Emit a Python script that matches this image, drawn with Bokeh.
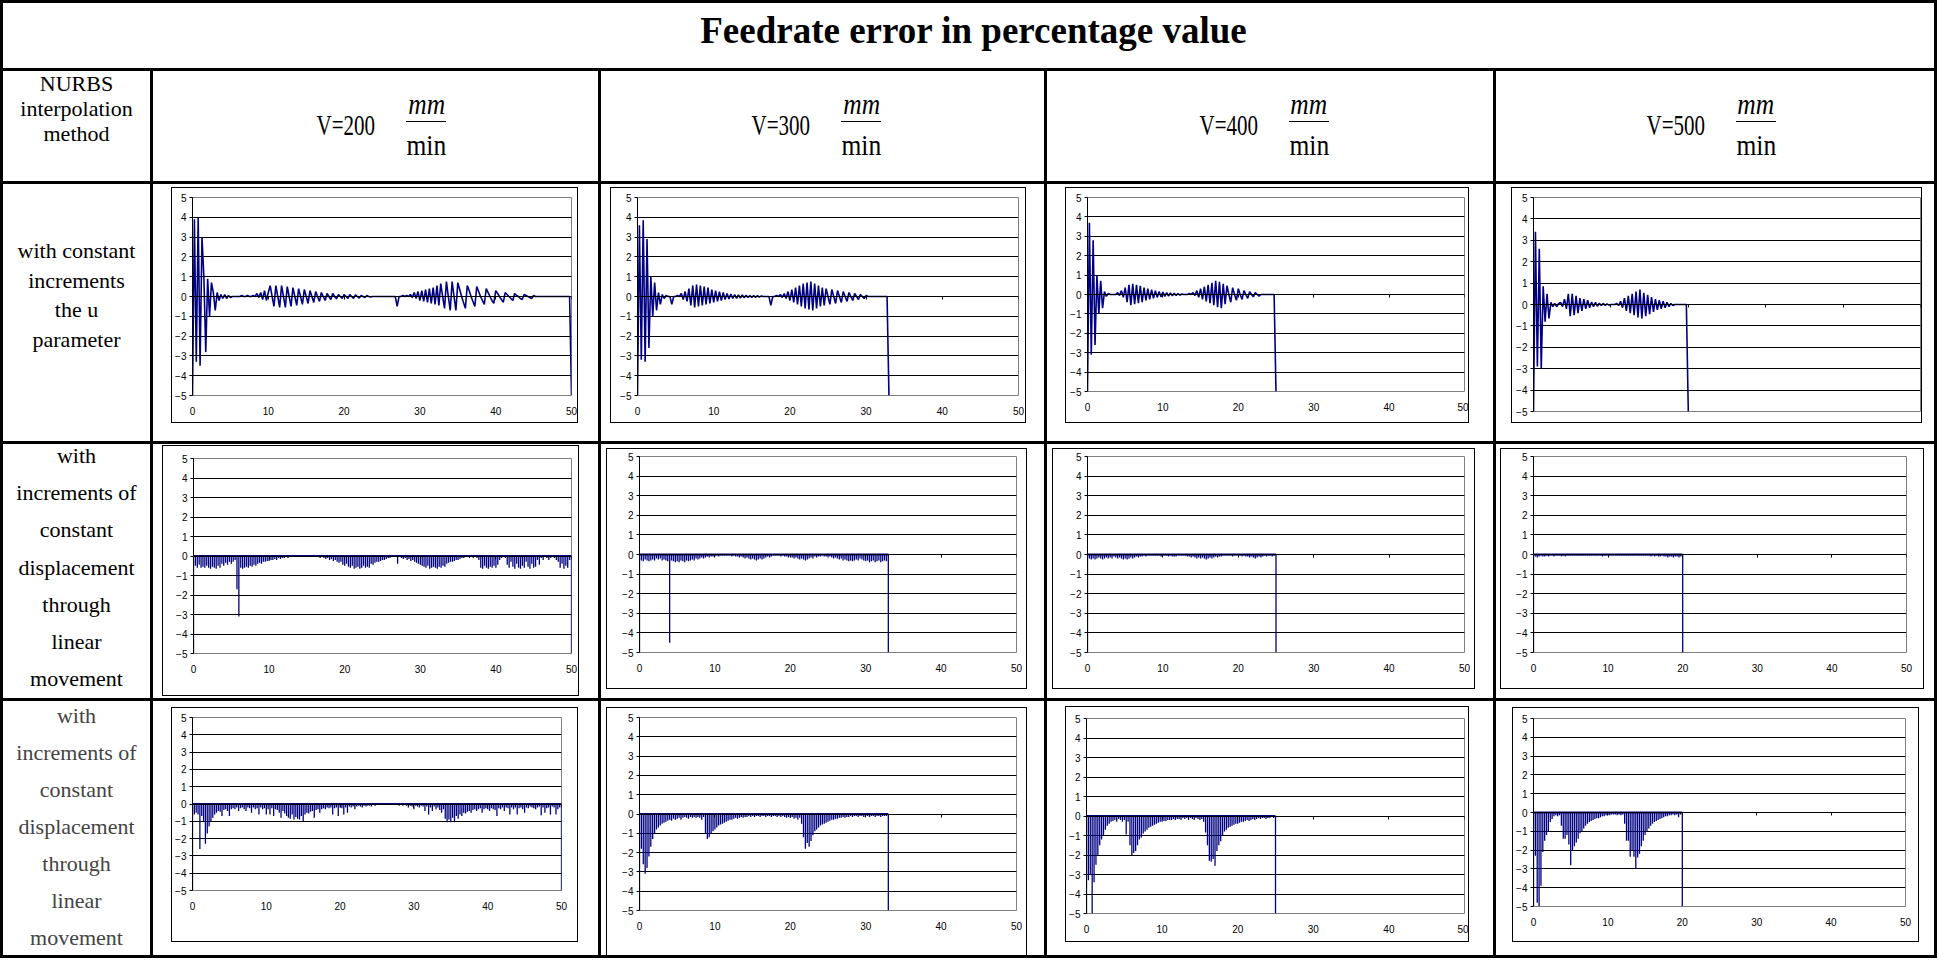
from bokeh.plotting import figure
from bokeh.layouts import column, row
from bokeh.models import Div, Range1d, LinearAxis, FixedTicker, Grid, ColumnDataSource
from bokeh.embed import file_html
from bokeh.resources import INLINE

# ---------------- texts ----------------
TITLE = "Feedrate error in percentage value"
HEADER_METHOD = ["NURBS", "interpolation", "method"]
SPEEDS = [200, 300, 400, 500]
UNIT_NUM = "mm"
UNIT_DEN = "min"
METHOD_LINES = [
    ["with constant", "increments", "the u", "parameter"],
    ["with", "increments of", "constant", "displacement", "through", "linear", "movement"],
    ["with", "increments of", "constant", "displacement", "through", "linear", "movement"],
]

# ---------------- axes ----------------
X_TICKS = [0, 10, 20, 30, 40, 50]
Y_TICKS = [-5, -4, -3, -2, -1, 0, 1, 2, 3, 4, 5]
GRID_TICKS = [-4, -3, -2, -1, 0, 1, 2, 3, 4]
STEP = 0.25  # sampling step of the series along the x axis

# ---------------- row 1: constant increments of u ----------------
U_200 = [
    -5, 3.9, -3.3, 4.0, -3.5, 3.0, 1.0, -2.8, 0.9, -1.0, 0.7, 0.2, -0.7, 0.2, -0.2, 0.1, -0.1, 0.1, -0.1, 0.05,
    -0.05, 0, 0, 0, 0, 0, 0.05, 0, 0, 0.05, 0, 0, 0.05, 0, 0.15, -0.05, 0.2, -0.15, 0.3, -0.2,
    0.2, 0.55, 0, -0.5, 0.55, 0, -0.55, 0.55, 0, -0.55, 0.5, 0, -0.5, 0.45, 0, -0.45, 0.4, 0, -0.4, 0.35,
    0, -0.35, 0.3, 0, -0.3, 0.25, 0, -0.25, 0.2, 0, -0.2, 0.15, 0, -0.15, 0.15, 0, -0.12, 0.1, 0, -0.1,
    0.1, 0, -0.1, 0.1, 0, -0.1, 0.08, 0, -0.08, 0.05, 0, -0.05, 0.05, 0, -0.03, 0, 0, 0, 0, 0,
    0, 0, 0, 0, 0, 0, 0, 0, -0.5, 0, 0, 0.05, 0, 0.05, 0, 0.1, -0.05, 0.2, -0.1, 0.25,
    -0.2, 0.3, -0.25, 0.35, -0.3, 0.4, -0.35, 0.45, -0.4, 0.55, -0.45, 0.65, 0, -0.6, 0.75, 0, -0.7, 0.75, 0, -0.7,
    0.7, 0.35, 0, -0.3, -0.6, 0.55, 0.3, 0, -0.25, -0.5, 0.5, 0.25, 0, -0.2, -0.4, 0.4, 0.2, 0, -0.2, -0.35,
    0.3, 0.15, 0, -0.15, -0.3, 0.2, 0.1, 0, -0.1, -0.2, 0.15, 0.05, 0, -0.1, -0.15, 0.1, 0.05, 0, -0.05, -0.1,
    0.05, 0, 0, 0, 0, 0, 0, 0, 0, 0, 0, 0, 0, 0, 0, 0, 0, 0, 0, 0,
    -5,
]
U_300 = [
    -5, 3.6, -3.2, 3.85, -3.3, 2.9, -2.6, 1.0, -1.0, 0.7, -0.7, 0.2, -0.4, 0.1, -0.1, 0.05, 0, 0, -0.4, 0,
    0, 0.05, 0, 0.15, -0.15, 0.25, -0.25, 0.4, -0.45, 0.55, -0.55, 0.6, -0.5, 0.55, -0.45, 0.5, -0.4, 0.45, -0.35, 0.35,
    -0.3, 0.3, -0.25, 0.25, -0.2, 0.2, -0.15, 0.15, -0.12, 0.12, -0.1, 0.1, -0.1, 0.08, -0.08, 0.08, -0.06, 0.06, -0.05, 0.05,
    -0.05, 0.05, -0.04, 0.04, -0.03, 0.03, 0, 0, 0, 0, -0.45, 0, 0, 0.05, 0, 0.1, -0.05, 0.15, -0.1, 0.25,
    -0.2, 0.35, -0.3, 0.45, -0.4, 0.55, -0.5, 0.65, -0.6, 0.7, -0.65, 0.75, -0.7, 0.65, -0.6, 0.55, -0.5, 0.45, -0.45, 0.4,
    0, -0.4, 0.35, 0, -0.35, 0.3, 0, -0.3, 0.25, 0, -0.25, 0.2, 0, -0.2, 0.15, 0, -0.15, 0.1, 0, -0.1,
    0.05, 0, 0, 0, 0, 0, 0, 0, 0, 0, 0, 0, -5,
]
U_400 = [
    -5, 3.7, -3.1, 2.8, -2.6, 1.0, -1.0, 0.7, -0.7, 0.15, -0.1, 0.05, 0, 0, 0, 0, 0.1, -0.05, 0.2, -0.15,
    0.35, -0.4, 0.5, -0.55, 0.55, -0.5, 0.5, -0.45, 0.45, -0.4, 0.35, -0.3, 0.3, -0.25, 0.25, -0.2, 0.2, -0.15, 0.15, -0.12,
    0.12, -0.1, 0.1, -0.08, 0.08, -0.07, 0.06, -0.05, 0.05, -0.04, 0.03, 0, 0, 0, 0.05, 0, 0.1, -0.05, 0.2, -0.15,
    0.3, -0.25, 0.4, -0.35, 0.5, -0.45, 0.6, -0.55, 0.7, -0.65, 0.65, -0.7, 0.55, -0.5, 0.45, 0, -0.4, 0.35, 0, -0.3,
    0.3, 0, -0.25, 0.2, 0, -0.2, 0.15, 0, -0.12, 0.1, 0, -0.08, 0, 0, 0, 0, 0, 0, 0, 0, -5,
]
U_500 = [
    -5, 3.4, -2.9, 2.6, -3.0, 0.85, -0.8, 0.5, -0.65, 0.1, -0.1, 0.05, -0.1, 0.05, 0.1, -0.1, 0.25, -0.2, 0.5, -0.55,
    0.5, -0.5, 0.4, -0.4, 0.3, -0.3, 0.25, -0.2, 0.2, -0.15, 0.12, -0.1, 0.1, -0.08, 0.06, -0.05, 0.05, -0.04, 0.03, -0.03,
    0, 0, 0, 0.05, -0.05, 0.15, -0.15, 0.3, -0.3, 0.4, -0.4, 0.5, -0.5, 0.6, -0.6, 0.7, -0.65, 0.55, -0.55, 0.45,
    -0.45, 0.35, -0.35, 0.25, -0.25, 0.2, -0.2, 0.15, -0.15, 0.1, -0.1, 0.05, -0.05, 0, 0, 0, 0, 0, 0, 0, -5,
]

# ---------------- row 2: constant displacement (first run) ----------------
D_200 = [
    -5, -0.5, -0.6, -0.45, -0.6, -0.55, -0.6, -0.5, -0.6, -0.65, -0.55, -0.6, -0.65, -0.5, -0.6, -0.4, -0.5, -0.35, -0.45, -0.3,
    -0.4, -0.3, -0.2, -1.7, -3.1, -0.6, -0.65, -0.6, -0.55, -0.6, -0.5, -0.55, -0.45, -0.5, -0.4, -0.35, -0.4, -0.3, -0.3, -0.25,
    -0.25, -0.2, -0.2, -0.15, -0.2, -0.1, -0.15, -0.1, -0.1, -0.05, -0.1, -0.05, -0.05, -0.05, -0.05, -0.03, -0.05, -0.03, -0.03, -0.03,
    -0.03, -0.03, -0.03, -0.05, -0.03, -0.05, -0.05, -0.1, -0.05, -0.1, -0.15, -0.1, -0.2, -0.15, -0.25, -0.2, -0.3, -0.35, -0.3, -0.45,
    -0.5, -0.4, -0.55, -0.6, -0.5, -0.65, -0.6, -0.55, -0.65, -0.6, -0.5, -0.6, -0.55, -0.6, -0.4, -0.45, -0.35, -0.3, -0.3, -0.25,
    -0.2, -0.2, -0.15, -0.1, -0.1, -0.05, -0.05, -0.05, -0.4, -0.05, -0.1, -0.15, -0.1, -0.2, -0.15, -0.25, -0.2, -0.3, -0.35, -0.4,
    -0.45, -0.5, -0.55, -0.6, -0.5, -0.65, -0.6, -0.55, -0.6, -0.65, -0.55, -0.6, -0.5, -0.55, -0.4, -0.35, -0.3, -0.3, -0.25, -0.2,
    -0.2, -0.15, -0.1, -0.1, -0.05, -0.05, -0.1, -0.05, -0.1, -0.05, -0.1, -0.2, -0.6, -0.65, -0.5, -0.6, -0.65, -0.55, -0.6, -0.5,
    -0.6, -0.45, -0.2, -0.1, -0.05, -0.1, -0.45, -0.6, -0.3, -0.55, -0.65, -0.4, -0.6, -0.65, -0.5, -0.6, -0.3, -0.55, -0.65, -0.4,
    -0.6, -0.55, -0.2, -0.45, -0.1, -0.2, -0.05, -0.1, -0.2, -0.1, -0.05, -0.1, -0.2, -0.3, -0.6, -0.4, -0.65, -0.5, -0.6, -0.2,
    -5,
]
D_300 = [
    -5, -0.3, -0.35, -0.25, -0.3, -0.35, -0.3, -0.25, -0.3, -0.2, -0.25, -0.2, -0.3, -0.25, -0.3, -0.35, -4.5, -0.3, -0.35, -0.4,
    -0.35, -0.4, -0.3, -0.35, -0.4, -0.3, -0.35, -0.3, -0.25, -0.3, -0.2, -0.25, -0.2, -0.15, -0.2, -0.15, -0.1, -0.15, -0.1, -0.1,
    -0.1, -0.05, -0.1, -0.05, -0.05, -0.05, -0.05, -0.05, -0.05, -0.1, -0.05, -0.1, -0.1, -0.15, -0.1, -0.15, -0.2, -0.15, -0.2, -0.25,
    -0.2, -0.25, -0.3, -0.25, -0.2, -0.25, -0.2, -0.15, -0.1, -0.15, -0.1, -0.05, -0.05, -0.05, -0.05, -0.1, -0.05, -0.1, -0.1, -0.15,
    -0.1, -0.15, -0.2, -0.15, -0.2, -0.25, -0.2, -0.25, -0.3, -0.25, -0.2, -0.15, -0.2, -0.1, -0.15, -0.1, -0.1, -0.05, -0.1, -0.1,
    -0.15, -0.1, -0.15, -0.2, -0.15, -0.2, -0.25, -0.2, -0.3, -0.25, -0.3, -0.35, -0.3, -0.35, -0.3, -0.25, -0.3, -0.2, -0.25, -0.3,
    -0.35, -0.3, -0.4, -0.35, -0.3, -0.4, -0.35, -0.3, -0.4, -0.35, -0.3, -0.35, -5,
]
D_400 = [
    -5, -0.2, -0.25, -0.2, -0.25, -0.2, -0.15, -0.2, -0.25, -0.2, -0.15, -0.2, -0.15, -0.2, -0.1, -0.15, -0.2, -0.15, -0.2, -0.25,
    -0.2, -0.25, -0.2, -0.15, -0.2, -0.15, -0.1, -0.15, -0.1, -0.1, -0.05, -0.1, -0.05, -0.05, -0.05, -0.05, -0.05, -0.05, -0.05, -0.1,
    -0.05, -0.05, -0.05, -0.1, -0.05, -0.1, -0.1, -0.1, -0.05, -0.05, -0.05, -0.05, -0.05, -0.1, -0.1, -0.15, -0.1, -0.15, -0.2, -0.15,
    -0.2, -0.15, -0.2, -0.25, -0.2, -0.15, -0.2, -0.15, -0.1, -0.15, -0.1, -0.1, -0.05, -0.05, -0.05, -0.05, -0.05, -0.1, -0.05, -0.05,
    -0.05, -0.05, -0.1, -0.05, -0.1, -0.1, -0.15, -0.1, -0.15, -0.2, -0.15, -0.1, -0.15, -0.1, -0.05, -0.1, -0.05, -0.05, -0.1, -0.05, -5,
]
D_500 = [
    -5, -0.1, -0.15, -0.1, -0.05, -0.1, -0.1, -0.05, -0.1, -0.05, -0.05, -0.1, -0.05, -0.05, -0.05, -0.1, -0.05, -0.1, -0.05, -0.05,
    -0.05, -0.05, -0.05, -0.05, -0.05, -0.05, -0.05, -0.05, -0.05, -0.05, -0.05, -0.05, -0.05, -0.05, -0.05, -0.05, -0.05, -0.1, -0.05, -0.05,
    -0.05, -0.05, -0.05, -0.05, -0.05, -0.05, -0.05, -0.05, -0.05, -0.05, -0.05, -0.05, -0.05, -0.05, -0.05, -0.05, -0.05, -0.05, -0.05, -0.05,
    -0.05, -0.05, -0.05, -0.1, -0.05, -0.1, -0.05, -0.1, -0.1, -0.05, -0.1, -0.1, -0.15, -0.1, -0.1, -0.15, -0.1, -0.1, -0.15, -0.1, -5,
]

# ---------------- row 3: constant displacement (second run) ----------------
L_200 = [
    -5, -0.6, -0.5, -0.6, -2.6, -0.7, -1.0, -2.3, -1.7, -1.3, -1.0, -0.8, -0.6, -0.5, -0.4, -0.45, -0.7, -0.35, -0.3, -0.4,
    -0.7, -0.3, -0.25, -0.3, -0.2, -0.4, -0.25, -0.2, -0.3, -0.4, -0.2, -0.25, -0.5, -0.2, -0.3, -0.25, -0.6, -0.2, -0.3, -0.25,
    -0.6, -0.3, -0.6, -0.25, -0.7, -0.3, -0.35, -0.5, -0.8, -0.4, -0.55, -0.7, -0.8, -0.85, -0.6, -0.9, -0.75, -0.85, -0.9, -0.7,
    -1.0, -0.6, -0.5, -0.55, -0.45, -0.4, -0.8, -0.35, -0.3, -0.5, -0.3, -0.25, -0.3, -0.2, -0.25, -0.2, -0.6, -0.25, -0.2, -0.7,
    -0.2, -0.25, -0.6, -0.2, -0.5, -0.15, -0.2, -0.15, -0.3, -0.15, -0.1, -0.15, -0.2, -0.1, -0.15, -0.1, -0.1, -0.15, -0.05, -0.1,
    -0.05, -0.05, -0.05, -0.05, -0.05, -0.05, -0.05, -0.05, -0.05, -0.05, -0.05, -0.05, -0.1, -0.05, -0.1, -0.05, -0.1, -0.2, -0.1, -0.15,
    -0.3, -0.1, -0.15, -0.2, -0.1, -0.15, -0.4, -0.15, -0.6, -0.2, -0.4, -0.15, -0.3, -0.2, -0.35, -0.5, -0.3, -0.85, -1.05, -0.9,
    -1.05, -0.8, -1.05, -0.7, -0.85, -0.6, -0.7, -0.5, -0.55, -0.45, -0.4, -0.5, -0.35, -0.3, -0.4, -0.3, -0.25, -0.5, -0.3, -0.25,
    -0.3, -0.4, -0.25, -0.3, -0.35, -0.7, -0.25, -0.3, -0.2, -0.4, -0.2, -0.25, -0.6, -0.2, -0.3, -0.2, -0.6, -0.25, -0.2, -0.3,
    -0.5, -0.2, -0.25, -0.15, -0.2, -0.25, -0.3, -0.2, -0.15, -0.65, -0.2, -0.5, -0.25, -0.2, -0.6, -0.15, -0.2, -0.6, -0.3, -0.2,
    -5,
]
L_300 = [
    -5, -1.8, -2.6, -3.1, -2.8, -2.2, -1.7, -1.3, -1.0, -0.8, -0.7, -0.6, -0.5, -0.45, -0.4, -0.35, -0.3, -0.35, -0.25, -0.3,
    -0.25, -0.2, -0.3, -0.2, -0.15, -0.2, -0.25, -0.15, -0.2, -0.15, -0.2, -0.15, -0.2, -0.3, -0.15, -1.0, -1.3, -1.2, -1.0, -0.9,
    -0.8, -0.7, -0.6, -0.55, -0.5, -0.45, -0.4, -0.35, -0.3, -0.3, -0.25, -0.2, -0.25, -0.2, -0.15, -0.2, -0.15, -0.15, -0.1, -0.15,
    -0.1, -0.15, -0.1, -0.1, -0.15, -0.1, -0.1, -0.15, -0.1, -0.1, -0.15, -0.1, -0.1, -0.15, -0.1, -0.15, -0.1, -0.15, -0.2, -0.15,
    -0.2, -0.15, -0.25, -0.2, -0.3, -0.2, -0.5, -1.2, -1.8, -1.5, -1.7, -1.4, -1.1, -0.9, -0.8, -0.7, -0.6, -0.55, -0.5, -0.45,
    -0.4, -0.35, -0.3, -0.3, -0.25, -0.25, -0.2, -0.2, -0.15, -0.2, -0.15, -0.15, -0.1, -0.15, -0.1, -0.1, -0.15, -0.1, -0.1, -0.15,
    -0.1, -0.1, -0.15, -0.1, -0.1, -0.15, -0.1, -0.1, -0.15, -0.1, -0.1, -0.1, -5,
]
L_400 = [
    -5, -3.3, -3.0, -5, -3.4, -2.5, -2.0, -1.5, -1.2, -1.0, -0.7, -0.5, -0.4, -0.3, -0.25, -0.2, -0.3, -0.15, -0.2, -0.3,
    -0.2, -0.95, -0.3, -1.5, -2.0, -1.9, -1.8, -1.5, -1.2, -1.1, -0.9, -0.8, -0.7, -0.6, -0.55, -0.5, -0.45, -0.4, -0.35, -0.3,
    -0.3, -0.25, -0.25, -0.2, -0.2, -0.2, -0.15, -0.2, -0.15, -0.15, -0.2, -0.1, -0.15, -0.1, -0.2, -0.1, -0.15, -0.2, -0.1, -0.15,
    -0.2, -0.15, -0.3, -0.85, -1.5, -2.3, -2.35, -2.2, -2.55, -1.8, -1.5, -1.3, -1.0, -0.8, -0.7, -0.6, -0.55, -0.5, -0.45, -0.4,
    -0.4, -0.35, -0.3, -0.3, -0.25, -0.2, -0.25, -0.2, -0.15, -0.2, -0.15, -0.1, -0.15, -0.1, -0.1, -0.15, -0.1, -0.1, -0.05, -0.1, -5,
]
L_500 = [
    -5, -2.3, -4.8, -5, -3.9, -2.1, -1.5, -1.2, -1.0, -0.5, -0.35, -0.2, -0.15, -0.2, -0.15, -0.7, -1.4, -1.4, -1.2, -1.7,
    -2.8, -2.0, -1.8, -1.6, -1.4, -1.1, -1.0, -0.85, -0.7, -0.6, -0.5, -0.45, -0.4, -0.35, -0.3, -0.3, -0.25, -0.2, -0.2, -0.15,
    -0.15, -0.15, -0.1, -0.1, -0.1, -0.15, -0.1, -0.15, -0.1, -0.6, -1.5, -1.5, -2.35, -2.0, -2.35, -3.0, -2.4, -2.2, -1.8, -1.5,
    -1.2, -1.0, -0.85, -0.7, -0.6, -0.5, -0.45, -0.4, -0.35, -0.3, -0.25, -0.2, -0.2, -0.15, -0.15, -0.1, -0.15, -0.1, -0.25, -0.1, -5,
]

SERIES = [[U_200, U_300, U_400, U_500],
          [D_200, D_300, D_400, D_500],
          [L_200, L_300, L_400, L_500]]
KINDS = ["line", "spike", "spike"]

# ---------------- layout (pixels) ----------------
PAGE = 0          # the page template has no body margin
BORDER = 3
GAP = 3
COL0_W = 147
COL_W = [445, 443, 446, 438]
TITLE_H = 65
HEAD_H = 110
ROW_H = [257, 254, 254]
TABLE_W = COL0_W + sum(COL_W) + GAP * len(COL_W)

COL_X0 = []
_x = PAGE + BORDER + COL0_W + GAP
for _w in COL_W:
    COL_X0.append(_x)
    _x += _w + GAP
ROW_Y0 = []
_y = PAGE + BORDER + TITLE_H + GAP + HEAD_H + GAP
for _h in ROW_H:
    ROW_Y0.append(_y)
    _y += _h + GAP

# chart boxes and plot areas in page pixels: (left, top, right, bottom)
GEOM = [
    [((171, 187, 577, 422), (190, 197, 571, 395)),
     ((610, 187, 1025, 422), (637, 197, 1018, 395)),
     ((1065, 187, 1468, 422), (1087, 197, 1464, 391)),
     ((1511, 187, 1921, 422), (1533, 197, 1920, 411))],
    [((162, 445, 578, 695), (193, 458, 571, 653)),
     ((606, 448, 1026, 688), (639, 456, 1016, 652)),
     ((1052, 448, 1474, 688), (1087, 456, 1464, 652)),
     ((1500, 448, 1923, 688), (1533, 456, 1906, 652))],
    [((171, 707, 577, 941), (190, 717, 561, 890)),
     ((606, 707, 1026, 980), (639, 717, 1016, 910)),
     ((1065, 706, 1468, 941), (1086, 718, 1464, 913)),
     ((1512, 707, 1918, 941), (1533, 718, 1905, 906))],
]
SHOW_XLABELS = [[True, True, True, False], [True] * 4, [True] * 4]
HEAD_SHIFT = [8, -4, -4, -2]

NAVY = "#000080"
SERIF = "'Liberation Serif', 'Times New Roman', serif"
SANS = "Liberation Sans"
TICK_SIZE = "10px"


def make_chart(vals, kind, r, c):
    (bx0, by0, bx1, by1), (px0, py0, px1, py1) = GEOM[r][c]
    ox, oy = COL_X0[c], ROW_Y0[r]
    cw, ch = COL_W[c], ROW_H[r]
    bx0, bx1, px0, px1 = bx0 - ox, bx1 - ox, px0 - ox, px1 - ox
    by0, by1, py0, py1 = by0 - oy, by1 - oy, py0 - oy, py1 - oy
    by1 = min(by1, ch)
    bx1 = min(bx1, cw)
    W = bx1 - bx0 - 1
    H = by1 - by0 - 1
    p = figure(width=W, height=H, x_range=Range1d(0, 50), y_range=Range1d(-5, 5),
               x_axis_type=None, y_axis_type=None, toolbar_location=None,
               output_backend="svg",
               min_border_left=px0 - bx0 - 1, min_border_right=bx1 - px1,
               min_border_top=py0 - by0 - 1, min_border_bottom=by1 - py1,
               margin=(by0 + 1, cw - bx1, ch - by1, bx0 + 1),
               styles={"box-shadow": "0 0 0 1px #000"})
    p.outline_line_color = "#808080"
    p.background_fill_color = "white"
    p.border_fill_color = "white"

    p.add_layout(Grid(dimension=1, ticker=FixedTicker(ticks=GRID_TICKS),
                      grid_line_color="black", grid_line_width=1))

    yax = LinearAxis(ticker=FixedTicker(ticks=Y_TICKS), major_tick_out=3, major_tick_in=0,
                     minor_tick_line_color=None, major_label_standoff=3,
                     major_label_text_font=SANS, major_label_text_font_size=TICK_SIZE,
                     major_label_text_color="black",
                     axis_line_color="black", major_tick_line_color="black")
    p.add_layout(yax, "left")

    # horizontal axis line crossing at y = 0 (ticks only, its labels are drawn below)
    zax = LinearAxis(fixed_location=0, ticker=FixedTicker(ticks=X_TICKS),
                     major_tick_in=3, major_tick_out=0, minor_tick_line_color=None,
                     major_label_text_color=None, major_label_text_font_size="1px",
                     major_label_standoff=0,
                     axis_line_color="black", major_tick_line_color="black")
    p.add_layout(zax, "above")

    if SHOW_XLABELS[r][c]:
        xax = LinearAxis(ticker=FixedTicker(ticks=X_TICKS), axis_line_color=None,
                         major_tick_line_color=None, minor_tick_line_color=None,
                         major_tick_out=0, major_tick_in=0, major_label_standoff=11,
                         major_label_text_font=SANS, major_label_text_font_size=TICK_SIZE,
                         major_label_text_color="black")
        p.add_layout(xax, "below")

    xs = [i * STEP for i in range(len(vals))]
    src = ColumnDataSource(data=dict(x=xs, y=vals))
    if kind == "line":
        p.line("x", "y", source=src, line_color=NAVY, line_width=1.6)
    else:
        p.line(x=[xs[0], xs[-1]], y=[0, 0], line_color=NAVY, line_width=2)
        p.segment(x0="x", y0=0, x1="x", y1="y", source=src, line_color=NAVY, line_width=1.3)

    return column(p, width=cw, height=ch, margin=0, styles={"background-color": "white"})


def text_cell(lines, w, h, line_h, top, color):
    html = (f'<div style="width:{w}px;height:{h}px;overflow:hidden;font-family:{SERIF};'
            f'font-size:22px;line-height:{line_h}px;color:{color};text-align:center;">'
            f'<div style="margin-top:{top}px">' + "<br>".join(lines) + '</div></div>')
    return Div(text=html, width=w, height=h, margin=0, styles={"background-color": "white"})


def speed_cell(v, w, h, shift):
    html = (f'<div style="position:relative;left:{shift}px;width:{w}px;height:{h - 3}px;display:flex;'
            f'align-items:center;justify-content:center;font-family:{SERIF};color:#000;">'
            f'<div style="width:58px;display:flex;justify-content:center;font-size:30px;'
            f'line-height:30px;white-space:nowrap;">'
            f'<span style="display:inline-block;transform:scaleX(0.7);">V={v}</span></div>'
            f'<div style="width:28px;"></div>'
            f'<div style="display:flex;flex-direction:column;align-items:center;font-size:30px;line-height:30px;">'
            f'<span style="display:inline-block;font-style:italic;transform:scaleX(0.85);margin-bottom:2px;">{UNIT_NUM}</span>'
            f'<div style="width:40px;height:0;border-top:1px solid #000;"></div>'
            f'<span style="display:inline-block;transform:scaleX(0.85);margin-top:8px;">{UNIT_DEN}</span>'
            f'</div></div>')
    return Div(text=html, width=w, height=h, margin=0,
               styles={"background-color": "white", "overflow": "hidden"})


title_div = Div(
    text=(f'<div style="position:relative;left:5px;width:{TABLE_W}px;height:{TITLE_H - 9}px;display:flex;'
          f'align-items:center;justify-content:center;font-family:{SERIF};font-weight:bold;'
          f'font-size:37px;color:#000;">{TITLE}</div>'),
    width=TABLE_W, height=TITLE_H, margin=0,
    styles={"background-color": "white", "overflow": "hidden"})

header = row([text_cell(HEADER_METHOD, COL0_W, HEAD_H, 25, 0, "#000")] +
             [speed_cell(v, COL_W[i], HEAD_H, HEAD_SHIFT[i]) for i, v in enumerate(SPEEDS)],
             spacing=GAP, margin=0)

LABEL_STYLE = [(29.7, 52, "#000"), (37.2, -7, "#000"), (37, -4, "#444")]

body_rows = []
for r in range(3):
    lh, top, colr = LABEL_STYLE[r]
    cells = [text_cell(METHOD_LINES[r], COL0_W, ROW_H[r], lh, top, colr)]
    for c in range(4):
        cells.append(make_chart(SERIES[r][c], KINDS[r], r, c))
    body_rows.append(row(cells, spacing=GAP, margin=0))

root = column([title_div, header] + body_rows, spacing=GAP, margin=0,
              styles={"background-color": "#000", "border": f"{BORDER}px solid #000"})

open("out.html", "w").write(file_html(root, INLINE, "Feedrate error in percentage value"))
